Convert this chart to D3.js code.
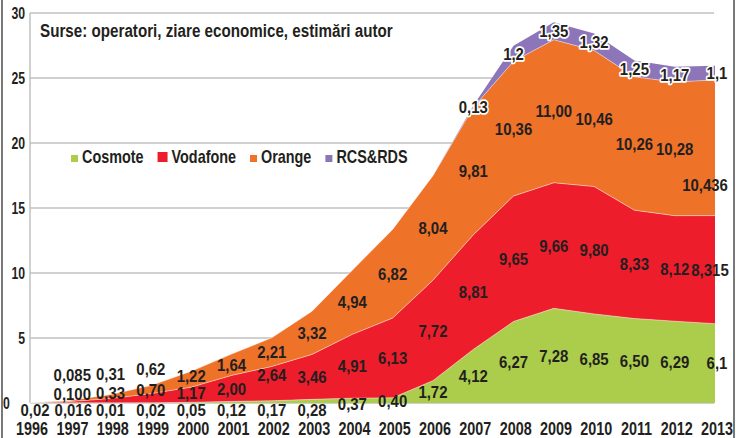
<!DOCTYPE html>
<html>
<head>
<meta charset="utf-8">
<script src="https://cdn.jsdelivr.net/npm/d3@7/dist/d3.min.js"></script>
<style>
body { margin: 0; background: #fff; }
text { fill: #231f20; font-weight: bold; font-family: "Liberation Sans", Arial, sans-serif; }
</style>
</head>
<body>
<div id="chart"></div>
<script>
// categories
var years = [1996, 1997, 1998, 1999, 2000, 2001, 2002, 2003, 2004, 2005,
             2006, 2007, 2008, 2009, 2010, 2011, 2012, 2013];

// values as printed on the chart (null = no label, counts as 0)
var cosmote  = ["0,02", "0,016", "0,01", "0,02", "0,05", "0,12", "0,17", "0,28", "0,37", "0,40",
                "1,72", "4,12", "6,27", "7,28", "6,85", "6,50", "6,29", "6,1"];
var vodafone = [null, "0,100", "0,33", "0,70", "1,17", "2,00", "2,64", "3,46", "4,91", "6,13",
                "7,72", "8,81", "9,65", "9,66", "9,80", "8,33", "8,12", "8,315"];
var orange   = [null, "0,085", "0,31", "0,62", "1,22", "1,64", "2,21", "3,32", "4,94", "6,82",
                "8,04", "9,81", "10,36", "11,00", "10,46", "10,26", "10,28", "10,436"];
var rcsrds   = [null, null, null, null, null, null, null, null, null, null,
                null, "0,13", "1,2", "1,35", "1,32", "1,25", "1,17", "1,1"];

var seriesNames  = ["Cosmote", "Vodafone", "Orange", "RCS&RDS"];
var seriesValues = [cosmote, vodafone, orange, rcsrds];
var yTicks = [0, 5, 10, 15, 20, 25, 30];
var title = "Surse: operatori, ziare economice, estimări autor";

var colors = ["#abcd4b", "#ee1d2b", "#ef7229", "#8c75b8"];

// hand-moved labels, as in the original (y in value units, dx in px)
var labelMoves = {
	"Cosmote-1996": {y: -0.55, dx: 5}, "Cosmote-1997": {y: -0.55, dx: 3}, "Cosmote-1998": {y: -0.55},
	"Cosmote-1999": {y: -0.55}, "Cosmote-2000": {y: -0.55}, "Cosmote-2001": {y: -0.55},
	"Cosmote-2002": {y: -0.55}, "Cosmote-2003": {y: -0.55}, "Cosmote-2004": {y: -0.08},
	"Cosmote-2013": {dx: 2},
	"Vodafone-1997": {y: 0.69, dx: 2}, "Vodafone-1998": {y: 0.75}, "Vodafone-1999": {y: 1.0},
	"Vodafone-2000": {y: 0.75}, "Vodafone-2002": {y: 2.15}, "Vodafone-2013": {dx: -5},
	"Orange-1997": {y: 2.15, dx: 2}, "Orange-1998": {y: 2.23}, "Orange-1999": {y: 2.6},
	"Orange-2000": {y: 2.08}, "Orange-2013": {y: 16.8, dx: -10},
	"RCS&RDS-2013": {dx: 2}
};

function num(s) { return s == null ? 0 : +s.replace(",", "."); }

var width = 736, height = 438;
var margin = {top: 13, left: 30, right: 21, bottom: 35};
var narrow = 0.8;   // horizontal squeeze to mimic Arial Narrow

var svg = d3.select("#chart").append("svg")
	.attr("width", width)
	.attr("height", height);

var x = d3.scaleLinear()
	.domain([years[0], years[years.length - 1]])
	.range([margin.left, width - margin.right]);
var y = d3.scaleLinear()
	.domain([0, 30])
	.range([height - margin.bottom, margin.top]);

var rows = years.map(function(yr, i) {
	var r = {year: yr};
	seriesNames.forEach(function(n, k) { r[n] = num(seriesValues[k][i]); });
	return r;
});
var stacked = d3.stack().keys(seriesNames)(rows);

// outer frame
svg.append("line").attr("x1", 2).attr("x2", 2).attr("y1", 0).attr("y2", height)
	.attr("stroke", "#4d4d4d").attr("stroke-width", 1.5);
svg.append("line").attr("x1", 734).attr("x2", 734).attr("y1", 0).attr("y2", height)
	.attr("stroke", "#4d4d4d").attr("stroke-width", 1.5);

// grid
svg.append("g").selectAll("line")
	.data(yTicks)
	.enter().append("line")
	.attr("x1", margin.left).attr("x2", 714)
	.attr("y1", function(d) { return y(d); })
	.attr("y2", function(d) { return y(d); })
	.attr("stroke", "#c0c0c0").attr("stroke-width", 1.5);
svg.append("line")
	.attr("x1", margin.left).attr("x2", margin.left)
	.attr("y1", y(30)).attr("y2", y(0))
	.attr("stroke", "#c0c0c0").attr("stroke-width", 1.5);

// areas
var area = d3.area()
	.x(function(d) { return x(d.data.year); })
	.y0(function(d) { return y(d[0]); })
	.y1(function(d) { return y(d[1]); });

svg.append("g").selectAll("path")
	.data(stacked)
	.enter().append("path")
	.attr("fill", function(d, i) { return colors[i]; })
	.attr("d", area);

// faint light seams between the layers
var topLine = d3.line()
	.x(function(d) { return x(d.data.year); })
	.y(function(d) { return y(d[1]); });
svg.append("g").selectAll("path")
	.data(stacked.slice(0, 3))
	.enter().append("path")
	.attr("fill", "none")
	.attr("stroke", "#fff").attr("stroke-opacity", 0.45).attr("stroke-width", 1)
	.attr("d", topLine);

// axes
var yAxis = svg.append("g")
	.attr("transform", "translate(" + margin.left + ",0)")
	.call(d3.axisLeft(y).tickValues(yTicks).tickSize(0));
yAxis.select(".domain").remove();
yAxis.selectAll("text")
	.style("font-size", "17px")
	.attr("x", -5 / 0.72)
	.attr("transform", "scale(0.72,1)")
	.attr("dx", function(d) { return d === 0 ? -21 : 0; })
	.attr("dy", "0.35em");

var xAxis = svg.append("g")
	.attr("transform", "translate(0," + y(0) + ")")
	.call(d3.axisBottom(x).tickValues(years).tickFormat(d3.format("d")).tickSize(0).tickPadding(19));
xAxis.select(".domain").remove();
xAxis.selectAll("text")
	.attr("dx", 2)
	.attr("transform", "scale(" + narrow + ",1)")
	.style("font-size", "18px");

// data labels
var labels = [];
stacked.forEach(function(layer, k) {
	layer.forEach(function(d, i) {
		var txt = seriesValues[k][i];
		if (txt == null) return;
		var mv = labelMoves[layer.key + "-" + years[i]] || {};
		labels.push({
			key: layer.key,
			text: txt,
			x: x(years[i]) + (mv.dx || 0),
			y: y(mv.y != null ? mv.y : (d[0] + d[1]) / 2),
			halo: layer.key === "RCS&RDS"
		});
	});
});

svg.append("g").selectAll("text")
	.data(labels)
	.enter().append("text")
	.attr("transform", function(d) { return "translate(" + d.x + "," + d.y + ") scale(0.88,1)"; })
	.attr("dy", "0.36em")
	.attr("text-anchor", "middle")
	.style("font-size", "17px")
	.style("paint-order", "stroke")
	.attr("stroke", function(d) { return d.halo ? "#fff" : "none"; })
	.attr("stroke-width", 3.5)
	.attr("stroke-linejoin", "round")
	.text(function(d) { return d.text; });

// title (squeezed to the width it has in the original)
var tt = svg.append("text")
	.style("font-size", "17.5px")
	.text(title);
var tk = 353 / tt.node().getComputedTextLength();
tt.attr("transform", "translate(40,37) scale(" + tk + ",1)");

// legend
var legendSquares = [7, 10, 7, 7];
var lx = 71, ly = 163;
var legend = svg.append("g");
seriesNames.forEach(function(n, i) {
	var s = legendSquares[i];
	legend.append("rect")
		.attr("x", lx).attr("y", ly - s - 1)
		.attr("width", s).attr("height", s)
		.attr("fill", colors[i]);
	var t = legend.append("text")
		.attr("transform", "translate(" + (lx + s + 4) + "," + ly + ") scale(" + narrow + ",1)")
		.style("font-size", "18px")
		.text(n);
	lx = lx + s + 4 + t.node().getComputedTextLength() * narrow + 14;
});
</script>
</body>
</html>
